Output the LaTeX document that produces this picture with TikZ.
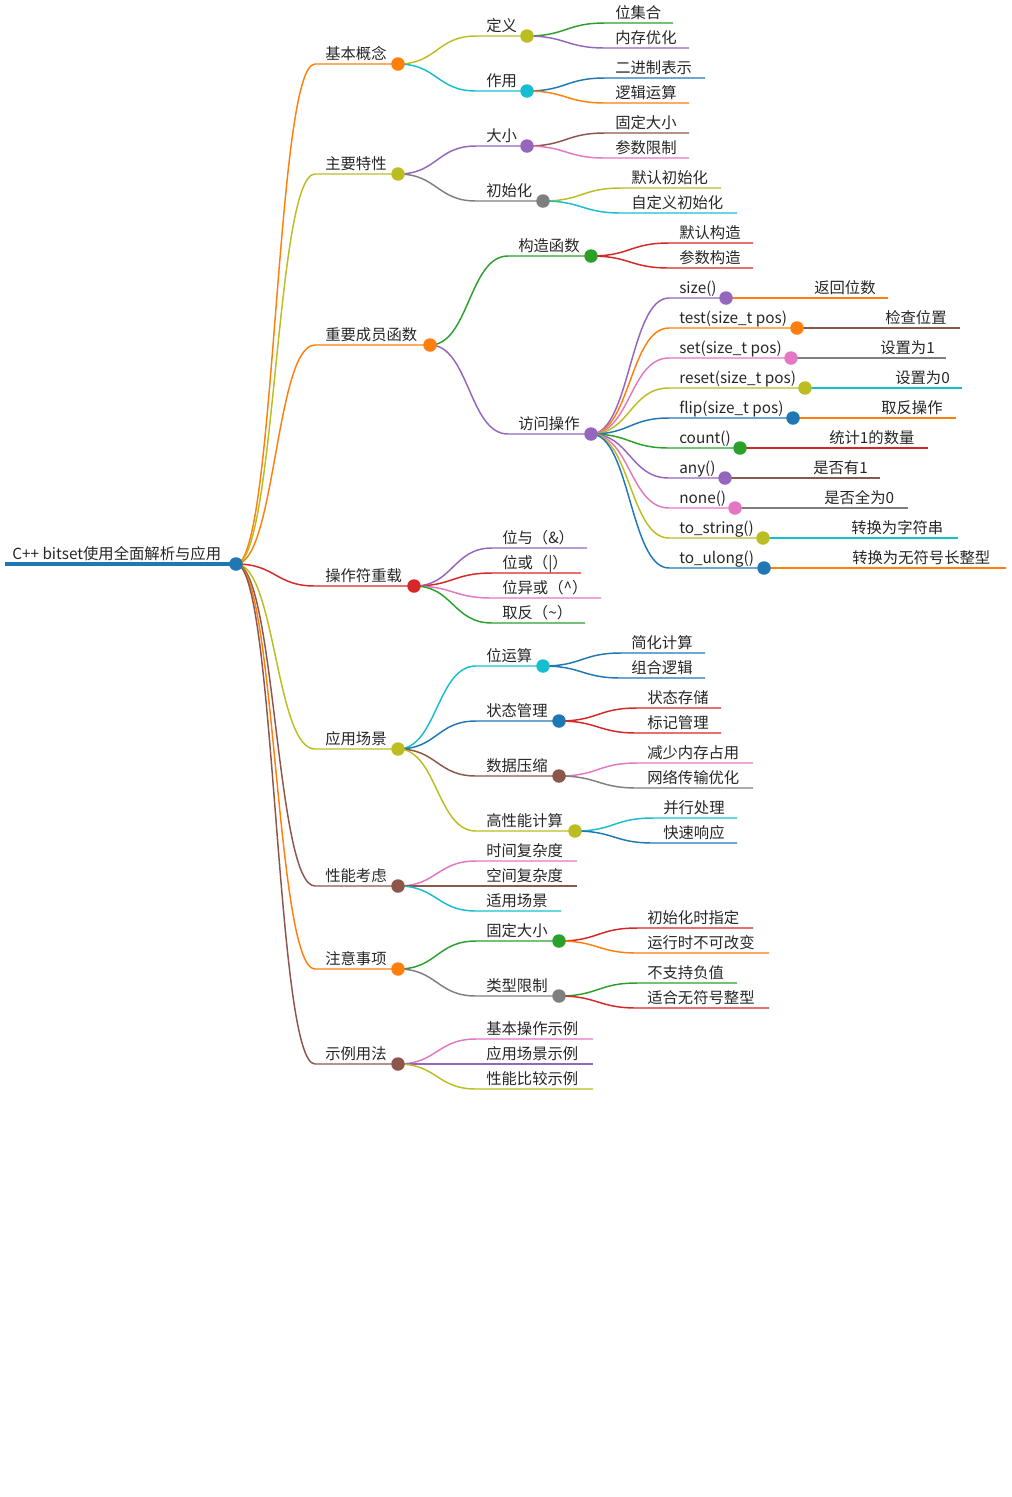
\documentclass[tikz,border=0pt]{standalone}
\usepackage{fontspec}
\setmainfont{Noto Sans CJK SC}
\usetikzlibrary{calc}
\definecolor{cb}{HTML}{1F77B4}\definecolor{co}{HTML}{FF7F0E}\definecolor{cg}{HTML}{2CA02C}
\definecolor{cr}{HTML}{D62728}\definecolor{cp}{HTML}{9467BD}\definecolor{cn}{HTML}{8C564B}
\definecolor{ck}{HTML}{E377C2}\definecolor{cy}{HTML}{7F7F7F}\definecolor{cl}{HTML}{BCBD22}
\definecolor{cc}{HTML}{17BECF}
\tikzset{mmline/.style={line width=1.1pt},mmdot/.style={line width=1.1pt,fill=white},
 mmtext/.style={anchor=base west,inner sep=0pt,font=\fontsize{11.5}{13}\selectfont,text=black!85}}
% #1 name #2 parent #3 textx #4 y #5 endx #6 color #7 text #8 circle
\newcommand\mm[8]{%
 \coordinate (#1-s) at (#3-10,#4);
 \coordinate (#1) at (#5,#4);
 \draw[mmline,#6] let \p1=(#2), \p2=(#1-s) in (\p1) .. controls ({(\x1+\x2)/2},\y1) and ({(\x1+\x2)/2},\y2) .. (\p2) -- (#1);
 \node[mmtext] (#1-t) at (#3,#4-5) {#7};
 \ifnum#8=1 \draw[mmdot,#6] (#1) circle[radius=6];\fi}
\begin{document}
\begin{tikzpicture}[x=0.75pt,y=-0.75pt]
\useasboundingbox (0,0) rectangle (1012,1497);
\coordinate (root) at (236,564);
\draw[cb,line width=2.3pt] (5,564) -- (root);
\node[mmtext] (root-t) at (12,559) {C++ bitset使用全面解析与应用};
% level 1
\mm{a}{root}{325}{64}{398}{co}{基本概念}{0}
\mm{b}{root}{325}{174}{398}{cl}{主要特性}{0}
\mm{c}{root}{325}{345}{430}{co}{重要成员函数}{0}
\mm{d}{root}{325}{586}{414}{cr}{操作符重载}{0}
\mm{e}{root}{325}{749}{398}{cl}{应用场景}{0}
\mm{f}{root}{325}{886}{398}{cn}{性能考虑}{0}
\mm{g}{root}{325}{969}{398}{co}{注意事项}{0}
\mm{h}{root}{325}{1064}{398}{cn}{示例用法}{0}
\draw[mmdot,cb] (root) circle[radius=6];
% a
\mm{a1}{a}{486}{36}{527}{cl}{定义}{0}
\mm{a2}{a}{486}{91}{527}{cc}{作用}{0}
\draw[mmdot,co] (a) circle[radius=6];
\mm{a11}{a1}{615}{23}{673}{cg}{位集合}{0}
\mm{a12}{a1}{615}{48}{689}{cp}{内存优化}{0}
\draw[mmdot,cl] (a1) circle[radius=6];
\mm{a21}{a2}{615}{78}{705}{cb}{二进制表示}{0}
\mm{a22}{a2}{615}{103}{689}{co}{逻辑运算}{0}
\draw[mmdot,cc] (a2) circle[radius=6];
% b
\mm{b1}{b}{486}{146}{527}{cp}{大小}{0}
\mm{b2}{b}{486}{201}{543}{cy}{初始化}{0}
\draw[mmdot,cl] (b) circle[radius=6];
\mm{b11}{b1}{615}{133}{689}{cn}{固定大小}{0}
\mm{b12}{b1}{615}{158}{689}{ck}{参数限制}{0}
\draw[mmdot,cp] (b1) circle[radius=6];
\mm{b21}{b2}{631}{188}{721}{cl}{默认初始化}{0}
\mm{b22}{b2}{631}{213}{737}{cc}{自定义初始化}{0}
\draw[mmdot,cy] (b2) circle[radius=6];
% c
\mm{c1}{c}{518}{256}{591}{cg}{构造函数}{0}
\mm{c2}{c}{518}{434}{591}{cp}{访问操作}{0}
\draw[mmdot,co] (c) circle[radius=6];
\mm{c11}{c1}{679}{243}{753}{cr}{默认构造}{0}
\mm{c12}{c1}{679}{268}{753}{cr}{参数构造}{0}
\draw[mmdot,cg] (c1) circle[radius=6];
\mm{m1}{c2}{679}{298}{726}{cp}{size()}{0}
\mm{m2}{c2}{679}{328}{797}{co}{test(size\_t pos)}{0}
\mm{m3}{c2}{679}{358}{791}{ck}{set(size\_t pos)}{0}
\mm{m4}{c2}{679}{388}{805}{cl}{reset(size\_t pos)}{0}
\mm{m5}{c2}{679}{418}{793}{cb}{flip(size\_t pos)}{0}
\mm{m6}{c2}{679}{448}{740}{cg}{count()}{0}
\mm{m7}{c2}{679}{478}{725}{cp}{any()}{0}
\mm{m8}{c2}{679}{508}{735}{ck}{none()}{0}
\mm{m9}{c2}{679}{538}{763}{cl}{to\_string()}{0}
\mm{m10}{c2}{679}{568}{764}{cb}{to\_ulong()}{0}
\draw[mmdot,cp] (c2) circle[radius=6];
\mm{m1a}{m1}{814}{298}{888}{co}{返回位数}{0}
\mm{m2a}{m2}{885}{328}{960}{cn}{检查位置}{0}
\mm{m3a}{m3}{880}{358}{946}{cy}{设置为1}{0}
\mm{m4a}{m4}{895}{388}{962}{cc}{设置为0}{0}
\mm{m5a}{m5}{881}{418}{956}{co}{取反操作}{0}
\mm{m6a}{m6}{829}{448}{928}{cr}{统计1的数量}{0}
\mm{m7a}{m7}{813}{478}{880}{cn}{是否有1}{0}
\mm{m8a}{m8}{824}{508}{908}{cy}{是否全为0}{0}
\mm{m9a}{m9}{851}{538}{958}{cc}{转换为字符串}{0}
\mm{m10a}{m10}{852}{568}{1006}{co}{转换为无符号长整型}{0}
\draw[mmdot,cp] (m1) circle[radius=6];
\draw[mmdot,co] (m2) circle[radius=6];
\draw[mmdot,ck] (m3) circle[radius=6];
\draw[mmdot,cl] (m4) circle[radius=6];
\draw[mmdot,cb] (m5) circle[radius=6];
\draw[mmdot,cg] (m6) circle[radius=6];
\draw[mmdot,cp] (m7) circle[radius=6];
\draw[mmdot,ck] (m8) circle[radius=6];
\draw[mmdot,cl] (m9) circle[radius=6];
\draw[mmdot,cb] (m10) circle[radius=6];
% d
\mm{d1}{d}{502}{548}{587}{cp}{位与（\&）}{0}
\mm{d2}{d}{502}{573}{581}{cr}{位或（|）}{0}
\mm{d3}{d}{502}{598}{601}{ck}{位异或（\^{}）}{0}
\mm{d4}{d}{502}{623}{585}{cg}{取反（\~{}）}{0}
\draw[mmdot,cr] (d) circle[radius=6];
% e
\mm{e1}{e}{486}{666}{543}{cc}{位运算}{0}
\mm{e2}{e}{486}{721}{559}{cb}{状态管理}{0}
\mm{e3}{e}{486}{776}{559}{cn}{数据压缩}{0}
\mm{e4}{e}{486}{831}{575}{cl}{高性能计算}{0}
\draw[mmdot,cl] (e) circle[radius=6];
\mm{e11}{e1}{631}{653}{705}{cb}{简化计算}{0}
\mm{e12}{e1}{631}{678}{705}{cb}{组合逻辑}{0}
\draw[mmdot,cc] (e1) circle[radius=6];
\mm{e21}{e2}{647}{708}{721}{cr}{状态存储}{0}
\mm{e22}{e2}{647}{733}{721}{cr}{标记管理}{0}
\draw[mmdot,cb] (e2) circle[radius=6];
\mm{e31}{e3}{647}{763}{753}{ck}{减少内存占用}{0}
\mm{e32}{e3}{647}{788}{753}{cy}{网络传输优化}{0}
\draw[mmdot,cn] (e3) circle[radius=6];
\mm{e41}{e4}{663}{818}{737}{cc}{并行处理}{0}
\mm{e42}{e4}{663}{843}{737}{cb}{快速响应}{0}
\draw[mmdot,cl] (e4) circle[radius=6];
% f
\mm{f1}{f}{486}{861}{577}{ck}{时间复杂度}{0}
\mm{f2}{f}{486}{886}{577}{cn}{空间复杂度}{0}
\mm{f3}{f}{486}{911}{561}{cc}{适用场景}{0}
\draw[mmdot,cn] (f) circle[radius=6];
% g
\mm{g1}{g}{486}{941}{559}{cg}{固定大小}{0}
\mm{g2}{g}{486}{996}{559}{cy}{类型限制}{0}
\draw[mmdot,co] (g) circle[radius=6];
\mm{g11}{g1}{647}{928}{753}{cr}{初始化时指定}{0}
\mm{g12}{g1}{647}{953}{769}{co}{运行时不可改变}{0}
\draw[mmdot,cg] (g1) circle[radius=6];
\mm{g21}{g2}{647}{983}{737}{cg}{不支持负值}{0}
\mm{g22}{g2}{647}{1008}{769}{cr}{适合无符号整型}{0}
\draw[mmdot,cy] (g2) circle[radius=6];
% h
\mm{h1}{h}{486}{1039}{593}{ck}{基本操作示例}{0}
\mm{h2}{h}{486}{1064}{593}{cp}{应用场景示例}{0}
\mm{h3}{h}{486}{1089}{593}{cl}{性能比较示例}{0}
\draw[mmdot,cn] (h) circle[radius=6];
\end{tikzpicture}
\end{document}
